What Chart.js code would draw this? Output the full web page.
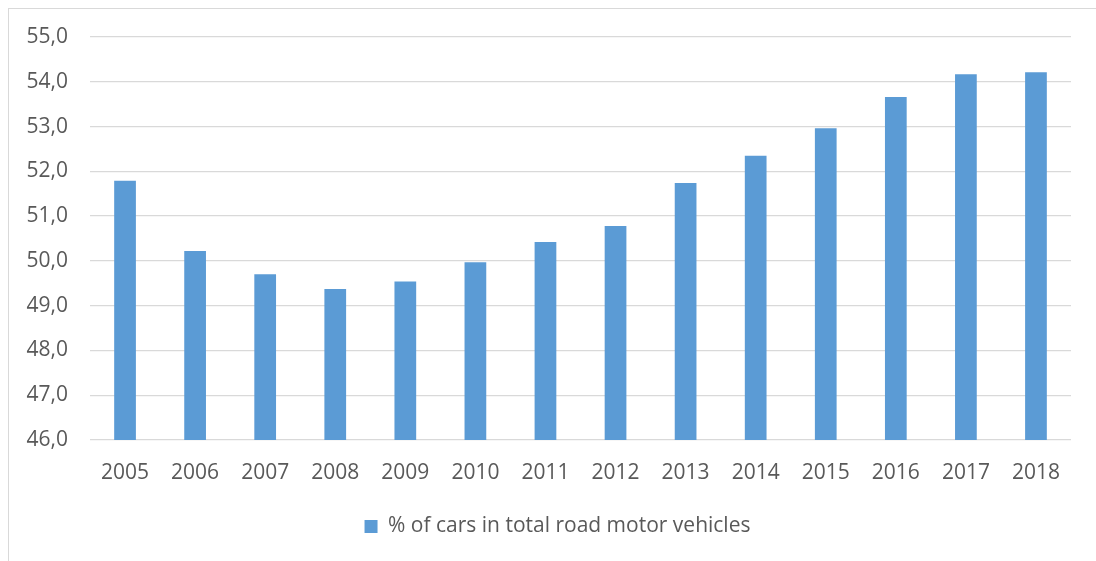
<!DOCTYPE html>
<html>
<head>
<meta charset="utf-8">
<script src="https://cdn.jsdelivr.net/npm/chart.js@4/dist/chart.umd.min.js"></script>
<style>
  html, body { margin: 0; padding: 0; background: #ffffff; }
  #wrap { position: relative; width: 1096px; height: 561px; overflow: hidden; }
  #frame { position: absolute; left: 8px; top: 8px; width: 1200px; height: 700px;
           border-left: 1px solid #d9d9d9; border-top: 1px solid #d9d9d9; pointer-events: none; }
  canvas { position: absolute; left: 0; top: 0; }
</style>
</head>
<body>
<div id="wrap">
  <canvas id="c" width="1096" height="561"></canvas>
  <div id="frame"></div>
</div>
<script>
const years = ['2005','2006','2007','2008','2009','2010','2011','2012','2013','2014','2015','2016','2017','2018'];
const carShare = [51.79, 50.22, 49.70, 49.37, 49.54, 49.97, 50.42, 50.78, 51.74, 52.35, 52.96, 53.66, 54.17, 54.21];
const seriesLabel = '% of cars in total road motor vehicles';
const yMin = 46, yMax = 55, yStep = 1;

const FONT = "'Open Sans', 'Liberation Sans', sans-serif";
const TEXT = '#595959';

const shiftLegend = {
  id: 'shiftLegend',
  afterLayout(chart) {
    const lg = chart.legend;
    if (lg) { lg.left += 22; lg.right += 22; }
  }
};

new Chart(document.getElementById('c'), {
  type: 'bar',
  data: {
    labels: years,
    datasets: [{
      label: seriesLabel,
      data: carShare,
      backgroundColor: '#5b9bd5',
      borderWidth: 0,
      barPercentage: 0.31,
      categoryPercentage: 1.0
    }]
  },
  plugins: [shiftLegend],
  options: {
    responsive: false,
    animation: false,
    devicePixelRatio: 1,
    layout: { padding: { left: 0, right: 25, top: 37, bottom: 14 } },
    plugins: {
      tooltip: { enabled: false },
      legend: {
        position: 'bottom',
        labels: {
          boxWidth: 13, boxHeight: 13,
          color: TEXT,
          font: { family: FONT, size: 21 },
          padding: 10
        }
      }
    },
    scales: {
      x: {
        grid: { display: false, drawTicks: false },
        border: { display: false },
        ticks: { color: TEXT, font: { family: FONT, size: 21 }, padding: 20, maxRotation: 0 },
        afterFit: (s) => { s.height = 66; }
      },
      y: {
        min: yMin, max: yMax,
        grid: { color: '#d9d9d9', lineWidth: 1.3, drawTicks: false },
        border: { display: false },
        ticks: {
          stepSize: yStep,
          color: TEXT,
          font: { family: FONT, size: 21 },
          padding: 22,
          callback: (v) => v.toFixed(1).replace('.', ',')
        },
        afterFit: (s) => { s.width = 90; }
      }
    }
  }
});
</script>
</body>
</html>
